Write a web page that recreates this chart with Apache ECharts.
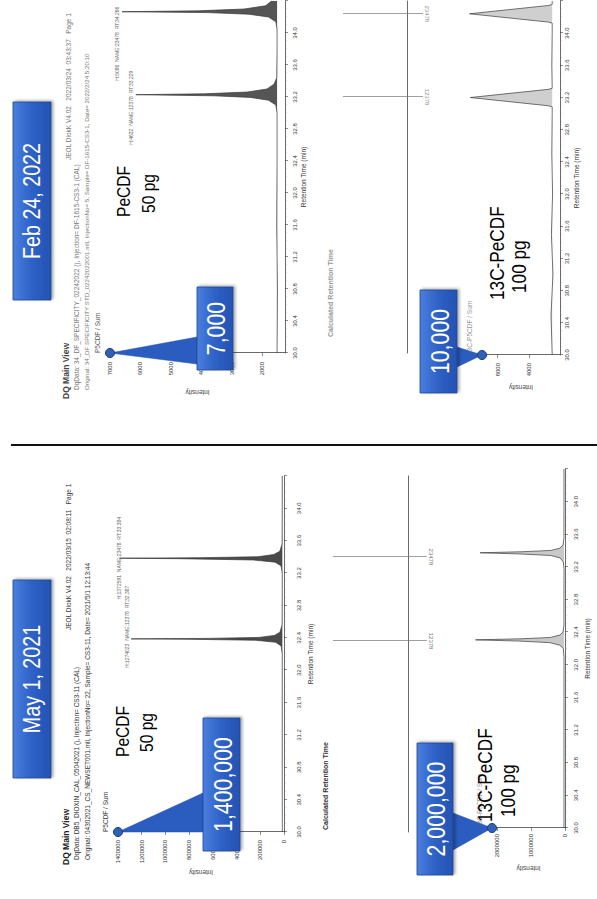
<!DOCTYPE html>
<html>
<head>
<meta charset="utf-8">
<title>PeCDF chromatograms</title>
<script src="https://cdn.jsdelivr.net/npm/echarts@6/dist/echarts.min.js"></script>
<style>
html, body { margin: 0; padding: 0; background: #fff; overflow: hidden; }
/* the slide is landscape, the photo is turned a quarter turn */
#page { position: absolute; left: 0; top: 0; width: 899px; height: 597px;
        transform-origin: 0 0; transform: translate(0, 899px) rotate(-90deg); background: #fff; }
</style>
</head>
<body>
<div id="page"></div>
<script>
// ---- data ----
var peakNames = ['12378', '23478'];

// May 1, 2021 - PeCDF 50 pg
var mayPeRT  = [30.0, 30.8, 31.6, 32.20, 32.30, 32.345, 32.37, 32.382, 32.387, 32.393, 32.405, 32.43, 32.47, 32.56,
                33.00, 33.20, 33.29, 33.335, 33.362, 33.378, 33.384, 33.390, 33.402, 33.43, 33.47, 33.56, 34.00, 34.40];
var mayPeInt = [14000, 15000, 15000, 15000, 24000, 70000, 240000, 800000, 1289000, 640000, 210000, 80000, 34000, 16000,
                15000, 15000, 25000, 75000, 260000, 880000, 1388000, 700000, 220000, 85000, 35000, 16000, 15000, 15000];
var mayPeLabelRT = ['32.387', '33.384'];
var mayPeLabelH  = ['1274023', '1372591'];

// May 1, 2021 - 13C-PeCDF 100 pg
var may13RT  = [30.0, 30.8, 31.6, 32.10, 32.20, 32.24, 32.272, 32.291, 32.306, 32.319, 32.335, 32.365, 32.40, 32.48,
                33.00, 33.18, 33.26, 33.31, 33.34, 33.358, 33.373, 33.386, 33.402, 33.43, 33.47, 33.55, 34.00, 34.40];
var may13Int = [30000, 30000, 30000, 30000, 50000, 150000, 450000, 1350000, 2635000, 1300000, 430000, 150000, 60000, 31000,
                30000, 30000, 50000, 140000, 420000, 1280000, 2500000, 1250000, 410000, 150000, 58000, 31000, 30000, 30000];
var may13LabelRT = ['32.306', '33.373'];
var may13LabelH  = ['2605408', '2469947'];

// Feb 24, 2022 - PeCDF 50 pg
var febPeRT  = [30.0, 30.8, 31.6, 32.4, 33.00, 33.10, 33.16, 33.195, 33.215, 33.229, 33.240, 33.262, 33.30, 33.36, 33.44,
                33.80, 34.05, 34.14, 34.20, 34.235, 34.255, 34.266, 34.277, 34.30, 34.34, 34.40];
var febPeInt = [1520, 1510, 1530, 1520, 1520, 1560, 1800, 2400, 3600, 6152, 3900, 2500, 1850, 1620, 1530,
                1520, 1520, 1560, 1800, 2450, 3800, 6606, 4100, 2600, 1900, 1700];
var febPeLabelRT = ['33.229', '34.266'];
var febPeLabelH  = ['4632', '5086'];

// Feb 24, 2022 - 13C-PeCDF 100 pg
var feb13RT  = [30.0, 30.5, 31.0, 31.5, 32.0, 32.5, 33.0, 33.085, 33.098, 33.200, 33.302, 33.315, 33.6,
                34.0, 34.125, 34.138, 34.241, 34.344, 34.357, 34.40];
var feb13Int = [1000, 1150, 900, 1100, 950, 1050, 1000, 1000, 1500, 11500, 1500, 1000, 1050,
                1000, 1000, 1500, 11600, 1500, 1000, 1000];
var feb13LabelRT = ['33.200', '34.241'];
var feb13LabelH  = ['8474', '8562'];

// calculated retention time markers
var mayCalcRT = [32.36, 33.40];
var febCalcRT = [33.20, 34.24];

// axis ticks
var mayPeTicks = [0, 200000, 400000, 600000, 800000, 1000000, 1200000, 1400000];
var may13Ticks = [0, 1000000, 2000000];
var febPeTicks = [2000, 3000, 4000, 5000, 6000, 7000];
var feb13Ticks = [4000, 8000];

// callouts: top of each intensity axis
var calloutTop  = [1400000, 2150000, 7000, 10000];
var calloutText = ['1,400,000', '2,000,000', '7,000', '10,000'];

// ---- styles ----
var AX = '#444';
var SANS = 'Liberation Sans, Arial, sans-serif';
var NARROW_X = 0.82;   // narrow face is not installed, squeeze the regular one

var chart = echarts.init(document.getElementById('page'), null, {renderer: 'svg', width: 899, height: 597});

function rtAxis(gi, labels, margin, gap) {
    return {
        type: 'value', gridIndex: gi, min: 30, max: 34.4, interval: 0.4,
        axisLine: {show: true, onZero: !labels, lineStyle: {color: AX, width: 0.8}},
        axisTick: {show: labels, length: 3, lineStyle: {color: AX, width: 0.6}},
        minorTick: {show: labels, splitNumber: 4, length: 1.5, lineStyle: {color: '#777', width: 0.5}},
        axisLabel: {show: labels, fontSize: 6, color: '#333', margin: margin, showMaxLabel: false,
            formatter: function (v) { return v.toFixed(1); }},
        splitLine: {show: false},
        name: labels ? 'Retention Time (min)' : '', nameLocation: 'middle', nameGap: gap,
        nameTextStyle: {fontSize: 6.5, color: '#333'}
    };
}

function intAxis(gi, min, max, ticks, margin, gap) {
    return {
        type: 'value', gridIndex: gi, min: min, max: max, position: 'left',
        axisLine: {show: true, lineStyle: {color: AX, width: 0.8}},
        axisTick: {show: true, length: 3, customValues: ticks, lineStyle: {color: AX, width: 0.6}},
        axisLabel: {fontSize: 6, color: '#333', margin: margin, customValues: ticks,
            formatter: function (v) { return String(v); }},
        splitLine: {show: false},
        name: 'Intensity', nameLocation: 'middle', nameRotate: 90, nameGap: gap,
        nameTextStyle: {fontSize: 6.5, color: '#444'}
    };
}

function nameAxis(gi, min, max, text, color) {
    return {
        type: 'value', gridIndex: gi, min: min, max: max, position: 'left',
        axisLine: {show: false}, axisTick: {show: false}, axisLabel: {show: false}, splitLine: {show: false},
        name: text, nameLocation: 'end', nameGap: 9,
        nameTextStyle: {fontSize: 6.5, color: color, align: 'left'}
    };
}

function calcAxis(gi) {
    return {type: 'value', gridIndex: gi, min: -0.4, max: 1, show: false};
}

function peakLabels(rt, inten, labRT, labH, offs) {
    return peakNames.map(function (n, k) {
        var c = parseFloat(labRT[k]), best = -1;
        for (var i = 0; i < rt.length; i++) {
            if (Math.abs(rt[i] - c) < 0.1 && (best < 0 || inten[i] > inten[best])) best = i;
        }
        return {coord: [rt[best], inten[best]],
            label: {formatter: 'H:' + labH[k] + '  NAME:' + n + '  RT:' + labRT[k], offset: offs[k]}};
    });
}

function chrom(gi, rt, inten, fill, lbl) {
    return {
        type: 'line', xAxisIndex: gi, yAxisIndex: gi, symbol: 'none', clip: false, silent: true, z: 3,
        data: rt.map(function (t, i) { return [t, inten[i]]; }),
        lineStyle: {color: '#3a3a3a', width: 0.7},
        areaStyle: {color: fill, opacity: 1, origin: inten[0]},
        markPoint: {symbol: 'circle', symbolSize: 0.1, silent: true,
            label: {show: true, position: 'top', distance: 2, fontSize: 5, color: '#666'},
            data: lbl}
    };
}

function calc(gi, rts, color) {
    return {
        type: 'scatter', xAxisIndex: gi, yAxisIndex: gi, symbolSize: 0, silent: true,
        data: rts.map(function (t, k) { return {value: [t, -0.31], name: peakNames[k]}; }),
        label: {show: true, position: 'inside', rotate: 180, formatter: '{b}', fontSize: 6, color: color},
        markLine: {symbol: 'none', silent: true, label: {show: false},
            lineStyle: {color: '#777', width: 0.7, type: 'solid'},
            data: rts.map(function (t) { return [{coord: [t, 1]}, {coord: [t, -0.25]}]; })}
    };
}

var option = {
    animation: false,
    backgroundColor: '#fff',
    textStyle: {fontFamily: SANS},
    grid: [
        {left: 67,  top: 118, width: 356, height: 166,  outerBoundsMode: 'none'},
        {left: 67,  top: 333, width: 356, height: 105,  outerBoundsMode: 'none'},
        {left: 71,  top: 492, width: 359, height: 73,   outerBoundsMode: 'none'},
        {left: 546, top: 110, width: 352, height: 175,  outerBoundsMode: 'none'},
        {left: 546, top: 343, width: 352, height: 89.6, outerBoundsMode: 'none'},
        {left: 544, top: 482, width: 354, height: 78,   outerBoundsMode: 'none'}
    ],
    xAxis: [
        rtAxis(0, true, 12, 23),
        rtAxis(1, false, 0, 0),
        rtAxis(2, true, 8, 19),
        rtAxis(3, true, 7, 15),
        rtAxis(4, false, 0, 0),
        rtAxis(5, true, 4, 13)
    ],
    yAxis: [
        intAxis(0, 0, 1400000, mayPeTicks, 8, 37),
        calcAxis(1),
        intAxis(2, 0, 2150000, may13Ticks, 6, 37),
        intAxis(3, 1260, 7000, febPeTicks, 9, 36),
        calcAxis(4),
        intAxis(5, 0, 10000, feb13Ticks, 8, 29),
        nameAxis(0, 0, 1400000, 'P5CDF / Sum', '#333'),
        nameAxis(2, 0, 2150000, '13C-P5CDF / Sum', '#999'),
        nameAxis(3, 1260, 7000, 'P5CDF / Sum', '#555'),
        nameAxis(5, 0, 10000, '13C-P5CDF / Sum', '#999')
    ],
    series: [
        chrom(0, mayPeRT, mayPeInt, '#4a4a4a', peakLabels(mayPeRT, mayPeInt, mayPeLabelRT, mayPeLabelH, [[12, 0], [0, 4]])),
        calc(1, mayCalcRT, '#444'),
        chrom(2, may13RT, may13Int, '#c9c9c9', peakLabels(may13RT, may13Int, may13LabelRT, may13LabelH, [[-43, 22], [-8, -6]])),
        chrom(3, febPeRT, febPeInt, '#555', peakLabels(febPeRT, febPeInt, febPeLabelRT, febPeLabelH, [[-13, 0], [-32, 0]])),
        calc(4, febCalcRT, '#666'),
        chrom(5, feb13RT, feb13Int, '#cfcfcf', peakLabels(feb13RT, feb13Int, feb13LabelRT, feb13LabelH, [[-42, 10], [-42, 10]]))
    ]
};
chart.setOption(option);

// ---- annotations (slide layer) ----
var headerTexts = [
    ['DQ Main View', 34, 66, 8.5, 'bold', '#222'],
    ['DqData: DB5_DIOXIN_CAL_05042021 (), Injection= CS3-11 (CAL)', 39, 76, 6.5, 'normal', '#333'],
    ['Original: 04302021_CS_NEWSET001.mll, InjectionNo= 22, Sample= CS3-11, Date= 2021/5/1 12:13:44', 39, 87, 6.5, 'normal', '#333'],
    ['JEOL DiokK V4.02   2022/03/15  02:08:11   Page 1', 269, 68, 6.5, 'normal', '#333'],
    ['Calculated Retention Time', 69, 325, 7, 'bold', '#333'],
    ['DQ Main View', 500, 66, 8.5, 'bold', '#444'],
    ['DqData: 34_DF_SPECIFICITY_02242022 (), Injection= DF-1615-CS3-1 (CAL)', 509, 76, 6.5, 'normal', '#777'],
    ['Original: 34_DF SPECIFICITY STD_02242022001.mll, InjectionNo= 5, Sample= DF-1615-CS3-1, Date= 2022/2/24 5:20:10', 509, 86, 6.2, 'normal', '#777'],
    ['JEOL DiokK V4.02   2022/03/24  03:43:37   Page 1', 739, 68, 6.5, 'normal', '#777'],
    ['Calculated Retention Time', 562, 330, 7, 'bold', '#999']
];
var bigTexts = [
    ['PeCDF', 142, 122, 19], ['50 pg', 147, 146, 19],
    ['13C-PeCDF', 77, 485, 21], ['100 pg', 82, 508, 21],
    ['PeCDF', 682, 123, 19], ['50 pg', 686, 148, 19],
    ['13C-PeCDF', 599, 497, 21], ['100 pg', 606, 519, 21]
];
var banners = [
    [121, 13, 198, 38, 'May 1, 2021'],
    [599, 13, 198, 38, 'Feb 24, 2022']
];
// box x, y, w, h, pointer base x1, x2, edge, axis index
var calloutBoxes = [
    [48, 203, 133, 37, 67, 106, 'top', 0],
    [24, 417, 132, 36, 49, 86, 'bottom', 2],
    [529, 197, 83, 36, 535, 562, 'top', 3],
    [506, 420, 103, 37, 532, 552, 'bottom', 5]
];

function blue() {
    return new echarts.graphic.LinearGradient(0, 0, 0, 1, [
        {offset: 0, color: '#4a7fdf'}, {offset: 0.5, color: '#2e61c6'}, {offset: 1, color: '#2452b2'}]);
}

var els = [];
els.push({type: 'line', z: 50, shape: {x1: 454, y1: 11, x2: 454, y2: 597}, style: {stroke: '#111', lineWidth: 2}});

headerTexts.forEach(function (t) {
    els.push({type: 'text', z: 40, x: t[1], y: t[2],
        style: {text: t[0], fontSize: t[3], fontWeight: t[4], fill: t[5], fontFamily: SANS, verticalAlign: 'middle'}});
});

bigTexts.forEach(function (t) {
    els.push({type: 'text', z: 70, x: t[1], y: t[2], scaleX: NARROW_X,
        style: {text: t[0], fontSize: t[3], fill: '#000', fontFamily: SANS, verticalAlign: 'middle'}});
});

banners.forEach(function (b) {
    els.push({type: 'rect', z: 60, shape: {x: b[0], y: b[1], width: b[2], height: b[3]},
        style: {fill: blue(), stroke: '#1f468f', lineWidth: 0.8,
            shadowBlur: 3, shadowColor: 'rgba(0,0,0,0.35)', shadowOffsetX: 1, shadowOffsetY: 2}});
    els.push({type: 'text', z: 61, x: b[0] + b[2] / 2, y: b[1] + b[3] / 2, scaleX: NARROW_X,
        style: {text: b[4], fill: '#fff', fontSize: 24, fontFamily: SANS, align: 'center', verticalAlign: 'middle'}});
});

calloutBoxes.forEach(function (c, k) {
    var p = chart.convertToPixel({xAxisIndex: c[7], yAxisIndex: c[7]}, [30, calloutTop[k]]);
    var by = c[6] === 'top' ? c[1] : c[1] + c[3];
    els.push({type: 'polygon', z: 80, shape: {points: [[p[0], p[1]], [c[4], by], [c[5], by]]},
        style: {fill: '#2b5cc0', stroke: '#234fa8', lineWidth: 0.5}});
    els.push({type: 'rect', z: 81, shape: {x: c[0], y: c[1], width: c[2], height: c[3]},
        style: {fill: blue(), stroke: '#1f468f', lineWidth: 0.8,
            shadowBlur: 3, shadowColor: 'rgba(0,0,0,0.35)', shadowOffsetX: 1, shadowOffsetY: 2}});
    els.push({type: 'text', z: 82, x: c[0] + c[2] / 2, y: c[1] + c[3] / 2 + 1, scaleX: NARROW_X,
        style: {text: calloutText[k], fill: '#fff', fontSize: 26, fontFamily: SANS, align: 'center', verticalAlign: 'middle'}});
    els.push({type: 'circle', z: 83, shape: {cx: p[0], cy: p[1], r: 4.5},
        style: {fill: '#2f62b6', stroke: '#1b3c7c', lineWidth: 1}});
});

chart.setOption({graphic: {elements: els}});
</script>
</body>
</html>
